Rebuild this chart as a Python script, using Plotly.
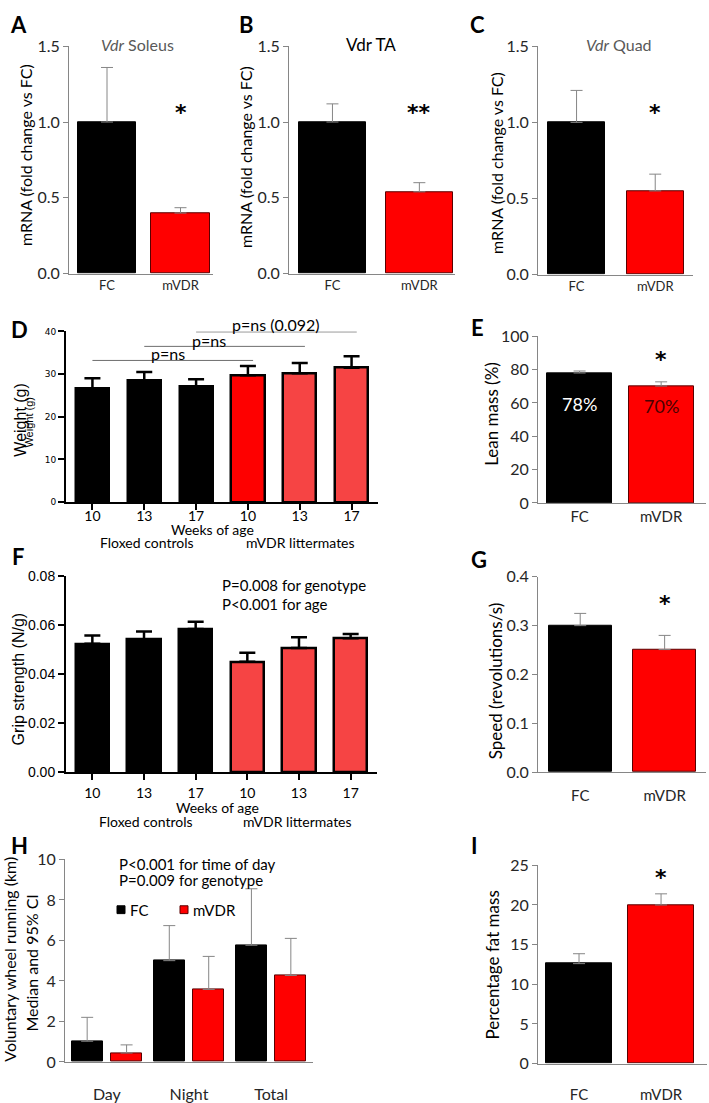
import plotly.graph_objects as go

W, H = 709, 1103
CAL = "Lato"
ARI = "Liberation Sans"

# ---------------- data ----------------
genotypes = ["FC", "mVDR"]
vdr_soleus = [1.00, 0.40]
vdr_soleus_err = [0.36, 0.035]
vdr_ta = [1.00, 0.54]
vdr_ta_err = [0.12, 0.06]
vdr_quad = [1.00, 0.55]
vdr_quad_err = [0.21, 0.11]

weeks = ["10", "13", "17"]
weight_fc = [26.7, 28.4, 27.1]
weight_fc_err = [2.3, 2.1, 1.7]
weight_mvdr = [29.7, 30.2, 31.5]
weight_mvdr_err = [2.2, 2.4, 2.7]
bracket_y = [33.2, 36.5, 39.9]
bracket_text = ["p=ns", "p=ns", "p=ns (0.092)"]

lean_mass = [78.0, 70.2]
lean_mass_err = [1.2, 2.5]
lean_labels = ["78%", "70%"]

grip_fc = [0.0524, 0.0542, 0.0584]
grip_fc_err = [0.0034, 0.0032, 0.0030]
grip_mvdr = [0.0451, 0.0507, 0.0547]
grip_mvdr_err = [0.0036, 0.0044, 0.0017]

speed = [0.300, 0.251]
speed_err = [0.025, 0.029]

times = ["Day", "Night", "Total"]
wheel_fc = [1.02, 5.00, 5.76]
wheel_fc_err = [1.18, 1.73, 2.79]
wheel_mvdr = [0.44, 3.58, 4.27]
wheel_mvdr_err = [0.40, 1.63, 1.83]

fat_mass = [12.6, 20.0]
fat_mass_err = [1.25, 1.4]

# ---------------- layout helpers ----------------
def px(p):
    return p / W

def py(p):
    return 1 - p / H

# panel: left, right, bottom(px at 0), top(px at ymax), xrange, yrange, style, dtick, fmt, xtick size, standoff
axes_spec = {
    "A": (69, 213, 269, 37, [-0.517, 1.442], [0, 1.5], "excel", 0.5, ".1f", 13, 0),
    "B": (289, 455, 269, 37, [-0.5, 1.41], [0, 1.5], "excel", 0.5, ".1f", 13, 0),
    "C": (538, 693, 270, 37, [-0.49, 1.48], [0, 1.5], "excel", 0.5, ".1f", 13, 0),
    "D": (66, 378, 502, 328, [-0.51, 5.51], [0, 40], "prism", 10, "d", 14, -6),
    "E": (538, 706, 503, 333, [-0.51, 1.55], [0, 100], "excel", 20, "d", 15, 0),
    "F": (66, 377, 777.7, 577.7, [-0.51, 5.51], [0, 0.08], "prism", 0.02, ".2f", 14, 1),
    "G": (538, 706, 777.7, 578.3, [-0.5, 1.49], [0, 0.4], "excel", 0.1, ".1f", 15, 10),
    "H": (65, 313, 1073.3, 866.7, [-0.51, 2.51], [0, 10], "excel", 2, "d", 16, 18),
    "I": (538, 707, 1075, 872.7, [-0.5, 1.56], [0, 25], "excel", 5, "d", 15, 17),
}
order = list(axes_spec.keys())
axis_id = {k: i + 1 for i, k in enumerate(order)}

def xa(k):
    i = axis_id[k]
    return "x" if i == 1 else f"x{i}"

def ya(k):
    i = axis_id[k]
    return "y" if i == 1 else f"y{i}"

def xname(k):
    i = axis_id[k]
    return "xaxis" if i == 1 else f"xaxis{i}"

layout_axes = {}
GRAY = "#868686"
TICKCOL = "#262626"
for k, (l, r, b, t, xr, yr, style, dt, fmt, xfs, so) in axes_spec.items():
    i = axis_id[k]
    xn = "xaxis" if i == 1 else f"xaxis{i}"
    yn = "yaxis" if i == 1 else f"yaxis{i}"
    if style == "excel":
        xd = dict(showline=True, linecolor=GRAY, linewidth=1, ticks="",
                  tickfont=dict(family=CAL, size=xfs, color=TICKCOL))
        yd = dict(showline=True, linecolor=GRAY, linewidth=1, ticks="outside",
                  ticklen=5, tickcolor=GRAY, tickwidth=1,
                  tickfont=dict(family=CAL, size=16, color=TICKCOL))
    else:
        xd = dict(showline=True, linecolor="black", linewidth=2, ticks="outside",
                  ticklen=6, tickcolor="black", tickwidth=2,
                  tickfont=dict(family=CAL, size=xfs, color="black"))
        yfont = dict(family="DejaVu Sans", size=9, color="black") if k == "D" else \
            dict(family=ARI, size=14, color="black")
        yd = dict(showline=True, linecolor="black", linewidth=2, ticks="outside",
                  ticklen=6, tickcolor="black", tickwidth=2, tickfont=yfont)
    xd.update(domain=[px(l), px(r)], range=xr, anchor=ya(k), showgrid=False,
              zeroline=False, fixedrange=True, ticklabelstandoff=so)
    yd.update(domain=[py(b), py(t)], range=yr, anchor=xa(k), showgrid=False,
              zeroline=False, dtick=dt, tick0=0, tickformat=fmt, fixedrange=True)
    layout_axes[xn] = xd
    layout_axes[yn] = yd

fig = go.Figure()

def err(arr, color=GRAY, thick=1, width=6):
    return dict(type="data", array=arr, arrayminus=[0] * len(arr), symmetric=False,
                color=color, thickness=thick, width=width, visible=True)

RED = "#ff0000"
RED_EDGE = "#5a0000"

def two_bar(k, vals, errs, width):
    fig.add_trace(go.Bar(
        x=list(range(len(genotypes))), y=vals, width=width,
        marker=dict(color=["#000000", RED], line=dict(color=["#000000", RED_EDGE], width=1)),
        error_y=err(errs), xaxis=xa(k), yaxis=ya(k), showlegend=False))
    layout_axes[xname(k)].update(
        tickmode="array", tickvals=list(range(len(genotypes))), ticktext=genotypes)

two_bar("A", vdr_soleus, vdr_soleus_err, 0.79)
two_bar("B", vdr_ta, vdr_ta_err, 0.77)
two_bar("C", vdr_quad, vdr_quad_err, 0.73)
two_bar("E", lean_mass, lean_mass_err, 0.80)
two_bar("G", speed, speed_err, 0.75)
two_bar("I", fat_mass, fat_mass_err, 0.80)

# Prism style panels D and F
def prism(k, fc, fc_err, mv, mv_err, mv_colors):
    n = len(weeks)
    fig.add_trace(go.Bar(
        x=list(range(n)), y=fc, width=0.64,
        marker=dict(color="#000000", line=dict(color="black", width=2.5)),
        error_y=err(fc_err, "black", 2.5, 8), xaxis=xa(k), yaxis=ya(k), showlegend=False))
    fig.add_trace(go.Bar(
        x=[n + i for i in range(n)], y=mv, width=0.64,
        marker=dict(color=mv_colors, line=dict(color="black", width=2.5)),
        error_y=err(mv_err, "black", 2.5, 8), xaxis=xa(k), yaxis=ya(k), showlegend=False))
    layout_axes[xname(k)].update(
        tickmode="array", tickvals=list(range(2 * n)), ticktext=weeks + weeks)

prism("D", weight_fc, weight_fc_err, weight_mvdr, weight_mvdr_err, ["#fe0000", "#f64444", "#f64444"])
prism("F", grip_fc, grip_fc_err, grip_mvdr, grip_mvdr_err, ["#f64444", "#f64444", "#f64444"])

# Panel H grouped bars
fig.add_trace(go.Bar(
    name="FC", x=list(range(len(times))), y=wheel_fc, width=0.38, offset=-0.43,
    marker=dict(color="#000000", line=dict(color="#000000", width=1)),
    error_y=err(wheel_fc_err), xaxis=xa("H"), yaxis=ya("H"), showlegend=False))
fig.add_trace(go.Bar(
    name="mVDR", x=list(range(len(times))), y=wheel_mvdr, width=0.38, offset=0.05,
    marker=dict(color=RED, line=dict(color=RED_EDGE, width=1)),
    error_y=err(wheel_mvdr_err), xaxis=xa("H"), yaxis=ya("H"), showlegend=False))
layout_axes[xname("H")].update(
    tickmode="array", tickvals=list(range(len(times))), ticktext=times)

# ---------------- annotations ----------------
anns = []
shapes = []

def note(text, x, y, size, family=CAL, color="black", angle=0, xanchor="center",
         xref="paper", yref="paper"):
    if xref == "paper":
        x = px(x)
    if yref == "paper":
        y = py(y)
    anns.append(dict(text=text, x=x, y=y, xref=xref, yref=yref, showarrow=False,
                     font=dict(family=family, size=size, color=color), textangle=angle,
                     xanchor=xanchor, yanchor="middle"))

# panel letters
for letter, (x, y) in {"A": (18, 15), "B": (246, 15), "C": (478, 15), "D": (19, 326),
                       "E": (478, 324), "F": (18, 558), "G": (479, 561), "H": (19, 852),
                       "I": (474, 853)}.items():
    note(f"<b>{letter}</b>", x, y, 22, family=CAL)

# titles
note("<i>Vdr</i> Soleus", 137, 35, 16, color="#595959")
note("Vdr TA", 371, 35, 17, color="black")
note("<i>Vdr</i> Quad", 619, 35, 16, color="#595959")

# y titles
note("mRNA (fold change vs FC)", 25, 148, 16, angle=-90)
note("mRNA (fold change vs FC)", 245, 150, 16, angle=-90)
note("mRNA (fold change vs FC)", 497, 156, 16, angle=-90)
note("Weight (g)", 21, 418, 16, family=ARI, angle=-90)
note("Weight (g)", 29, 421, 11, family=ARI, angle=-90)
note("Lean mass (%)", 492, 412, 17, angle=-90)
note("Grip strength (N/g)", 18, 683, 16, family=ARI, angle=-90)
note("Speed (revolutions/s)", 495, 685, 17, angle=-90)
note("Voluntary wheel running (km)", 10, 969, 16, angle=-90)
note("Median and 95% CI", 32, 973, 16, angle=-90)
note("Percentage fat mass", 493, 975, 17, angle=-90)

# x-group labels for D and F
note("Weeks of age", 213, 530, 14)
note("Floxed controls", 147, 543, 14)
note("mVDR littermates", 300, 543, 14)
note("Weeks of age", 217, 814, 14)
note("Floxed controls", 146, 828, 14)
note("mVDR littermates", 297, 828, 14)

# stats text
note("P=0.008 for genotype", 220, 587, 15, xanchor="left")
note("P<0.001 for age", 220, 606, 15, xanchor="left")
note("P<0.001 for time of day", 117, 871, 15, xanchor="left")
note("P=0.009 for genotype", 117, 888, 15, xanchor="left")

# legend for H (manual, matching the small square keys)
legend_items = [("FC", "#000000", "#000000", 117), ("mVDR", RED, RED_EDGE, 180)]
for name, fill, edge, lx in legend_items:
    shapes.append(dict(type="rect", xref="paper", yref="paper",
                       x0=px(lx), x1=px(lx + 8), y0=py(922), y1=py(914),
                       fillcolor=fill, line=dict(color=edge, width=1)))
    note(name, lx + 11, 918, 15, xanchor="left")

# significance stars (data coordinates)
STAR = "DejaVu Sans"
note("<b>*</b>", 1, 1.065, 22, family=STAR, xref=xa("A"), yref=ya("A"))
note("<b>**</b>", 1, 1.065, 22, family=STAR, xref=xa("B"), yref=ya("B"))
note("<b>*</b>", 1, 1.065, 22, family=STAR, xref=xa("C"), yref=ya("C"))
note("<b>*</b>", 1, 86, 22, family=STAR, xref=xa("E"), yref=ya("E"))
note("<b>*</b>", 1, 0.345, 22, family=STAR, xref=xa("G"), yref=ya("G"))
note("<b>*</b>", 1, 23.4, 22, family=STAR, xref=xa("I"), yref=ya("I"))

# lean mass labels inside bars
note(lean_labels[0], 0, 59.6, 18, color="white", xref=xa("E"), yref=ya("E"))
note(lean_labels[1], 1, 58.2, 18, color="#4a0000", xref=xa("E"), yref=ya("E"))

# D brackets
for i, yv in enumerate(bracket_y):
    shapes.append(dict(type="line", xref=xa("D"), yref=ya("D"), x0=i, x1=i + len(weeks) + 0.1,
                       y0=yv, y1=yv, line=dict(color="#6e6e6e", width=1)))
bracket_lab_px = [(168, 350), (209, 337), (276, 321)]
for txt, (bx, by) in zip(bracket_text, bracket_lab_px):
    note(txt, bx, by, 16)

fig.update_layout(
    width=W, height=H, margin=dict(l=0, r=0, t=0, b=0),
    paper_bgcolor="white", plot_bgcolor="rgba(0,0,0,0)",
    annotations=anns, shapes=shapes, bargap=0, showlegend=False,
    font=dict(family=CAL),
    **layout_axes,
)

fig.write_html("out.html", config={"displayModeBar": False},
               post_script="document.body.style.margin='0px';document.body.style.overflow='hidden';")
